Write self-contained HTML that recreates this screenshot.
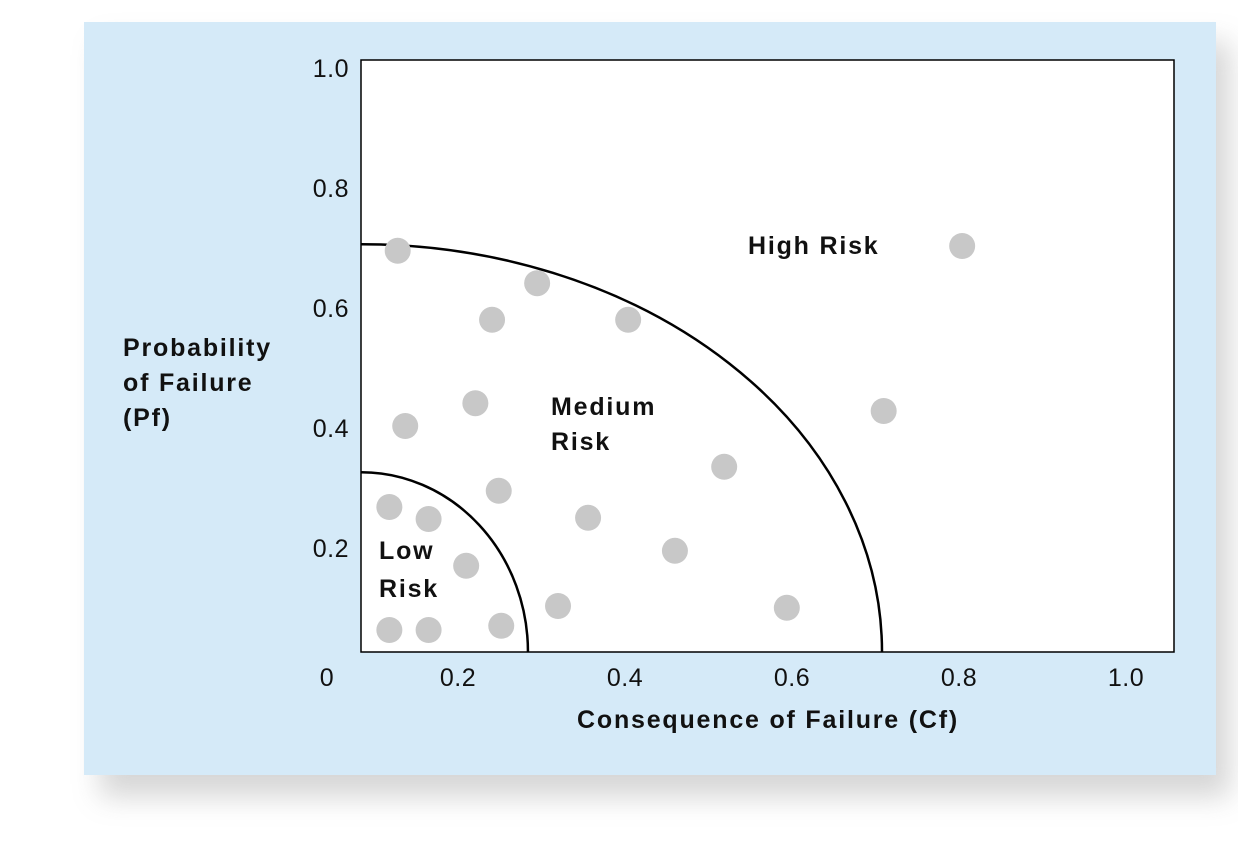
<!DOCTYPE html>
<html><head><meta charset="utf-8"><style>
html,body{margin:0;padding:0;background:#fff;width:1238px;height:859px;overflow:hidden}
svg{display:block;font-family:"Liberation Sans",sans-serif}
.b{font-weight:bold;font-size:25px;letter-spacing:1.8px;fill:#111}
.t{font-size:25px;fill:#111;letter-spacing:0.5px}
</style></head><body>
<svg id="chart" width="1238" height="859">
<defs><filter id="sh" x="-10%" y="-10%" width="130%" height="130%"><feGaussianBlur stdDeviation="14"/></filter></defs>
<rect x="100" y="42" width="1130" height="755" fill="#999" opacity="0.4" filter="url(#sh)"/>
<rect x="84" y="22" width="1132" height="753" fill="#d5eaf8"/>
<rect x="361" y="60" width="813" height="592" fill="#fff" stroke="#000" stroke-width="1.5"/>
<g id="arcs"></g><g id="pts"></g><g id="ticks"></g>
<text x="123" y="356" class="b"><tspan x="123">Probability</tspan><tspan x="123" dy="35">of Failure</tspan><tspan x="123" dy="35">(Pf)</tspan></text>
<text x="768" y="728" class="b" text-anchor="middle">Consequence of Failure (Cf)</text>
<text x="748" y="254" class="b">High Risk</text>
<text x="551" y="415" class="b"><tspan x="551">Medium</tspan><tspan x="551" dy="35">Risk</tspan></text>
<text x="379" y="559" class="b"><tspan x="379">Low</tspan><tspan x="379" dy="38">Risk</tspan></text>
<text x="327" y="686" class="t" text-anchor="middle">0</text>
</svg>
<script>
const xTicks=[0.2,0.4,0.6,0.8,1.0];
const yTicks=[0.2,0.4,0.6,0.8,1.0];
const xTickLabels=["0.2","0.4","0.6","0.8","1.0"];
const yTickLabels=["0.2","0.4","0.6","0.8","1.0"];
const cfValues=[0.123,0.290,0.236,0.399,0.799,0.132,0.216,0.705,0.514,0.244,0.113,0.160,0.351,0.455,0.205,0.315,0.589,0.113,0.160,0.247];
const pfValues=[0.702,0.648,0.587,0.587,0.710,0.410,0.448,0.435,0.342,0.302,0.275,0.255,0.257,0.202,0.177,0.110,0.107,0.070,0.070,0.077];
const arcCf=[0.279,0.703];
const arcPf=[0.333,0.713];
const ns="http://www.w3.org/2000/svg";
function xs(v){return 295+835*v;}
function ys(v){return 672-600*v;}
const ox=361,oy=652;
const ticks=document.getElementById('ticks');
xTicks.forEach((v,i)=>{const t=document.createElementNS(ns,'text');
t.setAttribute('x',xs(v)-4);t.setAttribute('y',686);t.setAttribute('class','t');t.setAttribute('text-anchor','middle');t.textContent=xTickLabels[i];


ticks.appendChild(t);});
yTicks.forEach((v,i)=>{const t=document.createElementNS(ns,'text');
t.setAttribute('x',349);t.setAttribute('y',ys(v)+5);t.setAttribute('class','t');t.setAttribute('text-anchor','end');t.textContent=yTickLabels[i];


ticks.appendChild(t);});
const arcs=document.getElementById('arcs');
arcCf.forEach((c,i)=>{const rx=xs(c)-ox,ry=oy-ys(arcPf[i]);
const p=document.createElementNS(ns,'path');
p.setAttribute('d',`M${ox} ${oy-ry} A${rx} ${ry} 0 0 1 ${ox+rx} ${oy}`);
p.setAttribute('fill','none');p.setAttribute('stroke','#000');p.setAttribute('stroke-width','2.5');


arcs.appendChild(p);});
const pts=document.getElementById('pts');
cfValues.forEach((c,i)=>{const e=document.createElementNS(ns,'circle');
e.setAttribute('cx',xs(c));e.setAttribute('cy',ys(pfValues[i]));e.setAttribute('r',13);e.setAttribute('fill','#c8c8c8');


pts.appendChild(e);});
</script>
</body></html>
